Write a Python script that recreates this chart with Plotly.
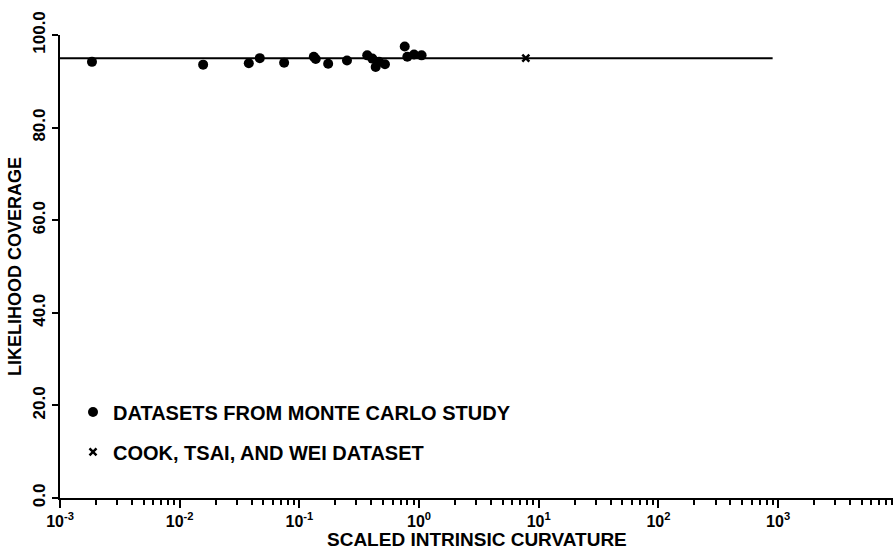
import plotly.graph_objects as go

# Monte Carlo datasets: scaled intrinsic curvature vs likelihood coverage (%)
mc_curvature = [0.00185, 0.0157, 0.0378, 0.0467, 0.0746, 0.132, 0.137, 0.174, 0.250,
                0.369, 0.407, 0.434, 0.463, 0.519, 0.759, 0.798, 0.908, 1.05]
mc_coverage = [94.2, 93.6, 93.9, 95.0, 94.0, 95.3, 94.8, 93.8, 94.5,
               95.6, 94.9, 93.1, 94.2, 93.7, 97.5, 95.3, 95.8, 95.6]

# Cook, Tsai and Wei dataset
ctw_curvature = [7.8]
ctw_coverage = [95.0]

# Nominal coverage level line
nominal_x = [0.001, 900]
nominal_y = [95, 95]

x_tickvals = [1e-3, 1e-2, 1e-1, 1e0, 1e1, 1e2, 1e3]
x_ticktext = ["10<sup>-3</sup>", "10<sup>-2</sup>", "10<sup>-1</sup>", "10<sup>0</sup>",
              "10<sup>1</sup>", "10<sup>2</sup>", "10<sup>3</sup>"]
y_tickvals = [0, 20, 40, 60, 80, 100]
y_ticktext = ["0.0", "20.0", "40.0", "60.0", "80.0", "100.0"]

minor_vals = [m * 10 ** e for e in range(-3, 4) for m in range(2, 10)]

FONT = "Liberation Sans, Arial, sans-serif"

fig = go.Figure()
fig.add_trace(go.Scatter(x=nominal_x, y=nominal_y, mode="lines",
                         line=dict(color="black", width=2), showlegend=False,
                         hoverinfo="skip"))
fig.add_trace(go.Scatter(x=mc_curvature, y=mc_coverage, mode="markers",
                         name="<b>DATASETS FROM MONTE CARLO STUDY</b>",
                         legendgroup="a",
                         marker=dict(symbol="circle", size=10, color="black")))
fig.add_trace(go.Scatter(x=ctw_curvature, y=ctw_coverage, mode="markers",
                         name="<b>COOK, TSAI, AND WEI DATASET</b>",
                         legendgroup="b",
                         marker=dict(symbol="x-thin", size=7, color="black",
                                     line=dict(color="black", width=2.5))))

fig.update_layout(
    width=893, height=552,
    margin=dict(l=60, r=0, t=35, b=54),
    paper_bgcolor="white", plot_bgcolor="white",
    font=dict(family=FONT, color="black"),
    legend=dict(x=0.0156, y=0.228, xanchor="left", yanchor="top",
                bgcolor="rgba(0,0,0,0)", font=dict(size=20, family=FONT),
                traceorder="grouped", tracegroupgap=11, itemsizing="trace"),
    annotations=[dict(text="<b>SCALED INTRINSIC CURVATURE</b>", xref="paper", yref="paper",
                      x=0.5, y=0, yshift=-41, xanchor="center", yanchor="middle",
                      showarrow=False, font=dict(size=19, family=FONT))],
)
fig.update_xaxes(type="log", range=[-3, 3.96], showgrid=False, zeroline=False,
                 showline=True, linecolor="black", linewidth=2,
                 ticks="outside", ticklen=8, tickwidth=2, tickcolor="black",
                 tickvals=x_tickvals, ticktext=["<b>%s</b>" % t for t in x_ticktext],
                 tickfont=dict(size=16, family=FONT),
                 minor=dict(ticks="outside", ticklen=5, tickwidth=1.5,
                            tickcolor="black", tickvals=minor_vals, showgrid=False))
fig.update_yaxes(range=[0, 100], showgrid=False, zeroline=False,
                 showline=True, linecolor="black", linewidth=2,
                 ticks="outside", ticklen=6, tickwidth=2, tickcolor="black",
                 tickvals=y_tickvals, ticktext=["<b>%s</b>" % t for t in y_ticktext],
                 tickangle=-90,
                 tickfont=dict(size=17, family=FONT),
                 title=dict(text="<b>LIKELIHOOD COVERAGE</b>", standoff=4,
                            font=dict(size=18, family=FONT)))

fig.write_html("out.html", post_script="document.body.style.margin='0';",
               config={"displayModeBar": False})
